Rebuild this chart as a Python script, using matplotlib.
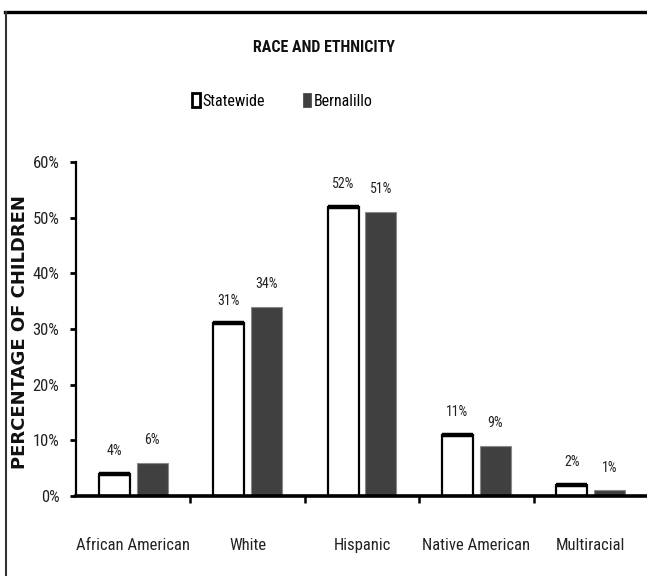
import matplotlib
matplotlib.use("Agg")
import matplotlib.pyplot as plt
from matplotlib import font_manager
from matplotlib.lines import Line2D
from matplotlib.patches import Patch
from matplotlib.ticker import FixedLocator, PercentFormatter

categories = ["African American", "White", "Hispanic", "Native American", "Multiracial"]
statewide = [4, 31, 52, 11, 2]
bernalillo = [6, 34, 51, 9, 1]
series_names = ["Statewide", "Bernalillo"]
y_ticks = [0, 10, 20, 30, 40, 50, 60]


def narrow_face():
    """Pick the narrowest sans face that is installed."""
    faces = font_manager.fontManager.ttflist
    for fam in ("Liberation Sans Narrow", "Arial Narrow", "Roboto Condensed",
                "Open Sans Condensed", "DejaVu Sans"):
        for f in faces:
            if f.name == fam and (fam != "DejaVu Sans" or f.stretch == "condensed"):
                return fam, ("condensed" if f.stretch == "condensed" else "normal")
    return "Liberation Sans", "normal"


NARROW, STRETCH = narrow_face()
plt.rcParams["font.family"] = [NARROW, "DejaVu Sans"]
plt.rcParams["font.stretch"] = STRETCH

W, H = 647, 576
fig = plt.figure(figsize=(W / 100, H / 100), dpi=100)
fig.patch.set_facecolor("white")

# plot area (the category axis runs past the right edge of the canvas)
left, right, bottom, top = 76, 648, 496, 162
ax = fig.add_axes([left / W, 1 - bottom / H, (right - left) / W, (bottom - top) / H])

x = list(range(len(categories)))
bw = 0.27
off = 0.165

gray = "#404040"
ax.bar([i - off for i in x], statewide, width=bw, color="white",
       edgecolor="black", linewidth=1.6, zorder=2)
ax.bar([i + off for i in x], bernalillo, width=bw, color=gray,
       edgecolor="#8a8a8a", linewidth=0.8, zorder=2)
# heavier rule along the top of each statewide bar
ax.hlines(statewide, [i - off - bw / 2 for i in x], [i - off + bw / 2 for i in x],
          colors="black", linewidth=3.2, zorder=3)

for i in x:
    ax.annotate(f"{statewide[i]}%", (i - off, statewide[i]), xytext=(0, 16.5),
                textcoords="offset points", ha="center", va="center",
                fontsize=10, color="#222222")
    ax.annotate(f"{bernalillo[i]}%", (i + off, bernalillo[i]), xytext=(0, 16.5),
                textcoords="offset points", ha="center", va="center",
                fontsize=10, color="#222222")

ax.set_xlim(-0.5, len(categories) - 0.5)
ax.set_ylim(0, 60)

for s in ("top", "right"):
    ax.spines[s].set_visible(False)
ax.spines["left"].set_linewidth(1.6)
ax.spines["bottom"].set_linewidth(2.6)
ax.spines["bottom"].set_zorder(4)

ax.yaxis.set_major_locator(FixedLocator(y_ticks))
ax.yaxis.set_major_formatter(PercentFormatter(decimals=0))
ax.tick_params(axis="y", direction="out", length=4, width=2, pad=8,
               labelsize=12, labelcolor="#222222")

ax.set_xticks(x)
ax.set_xticklabels(categories)
ax.tick_params(axis="x", which="major", length=0, pad=30, labelsize=12,
               labelcolor="#222222")
ax.set_xticks([i + 0.5 for i in x[:-1]], minor=True)
ax.tick_params(axis="x", which="minor", direction="out", length=5, width=1.8)

fig.text(20 / W, 1 - 332 / H, "PERCENTAGE OF CHILDREN", rotation=90,
         ha="center", va="center", family="DejaVu Sans", stretch="normal",
         fontweight="bold", fontsize=13, color="#111111")

fig.text(0.5, 1 - 47 / H, "RACE AND ETHNICITY", ha="center", va="center",
         fontsize=11.5, fontweight="bold", color="#111111")

handles = [Patch(facecolor="white", edgecolor="black", linewidth=2.0),
           Patch(facecolor=gray, edgecolor=gray, linewidth=0.5)]
fig.legend(handles, series_names, loc="center", bbox_to_anchor=(282 / W, 1 - 101 / H),
           ncol=2, frameon=False, fontsize=11.5, handlelength=0.5, handleheight=0.9,
           handletextpad=0.15, columnspacing=2.4, borderaxespad=0)

# outer frame: heavy rule along the top, thin rule down the left side
fig.add_artist(Line2D([5 / W, 1], [1 - 11.5 / H, 1 - 11.5 / H], color="black",
                      linewidth=2.4, transform=fig.transFigure))
fig.add_artist(Line2D([6 / W, 6 / W], [0, 1 - 11.5 / H], color="#333333",
                      linewidth=1.5, transform=fig.transFigure))

fig.savefig("out.png", dpi=100)
